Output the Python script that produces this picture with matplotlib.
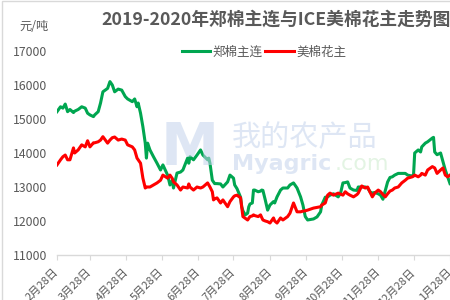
import matplotlib
matplotlib.use("Agg")
import matplotlib.pyplot as plt
from matplotlib.patches import Rectangle
import pandas as pd

plt.rcParams['font.family'] = ['Noto Sans CJK SC', 'DejaVu Sans']

title = "2019-2020年郑棉主连与ICE美棉花主走势图"
unit_label = "元/吨"
series_names = ["郑棉主连", "美棉花主"]

dates = [
    "2019-02-28", "2019-03-03", "2019-03-05", "2019-03-07", "2019-03-09", "2019-03-11",
    "2019-03-14", "2019-03-15", "2019-03-18", "2019-03-21", "2019-03-24", "2019-03-26",
    "2019-03-28", "2019-03-31", "2019-04-01", "2019-04-04", "2019-04-06", "2019-04-08",
    "2019-04-12", "2019-04-14", "2019-04-16", "2019-04-18", "2019-04-21", "2019-04-24",
    "2019-04-27", "2019-04-29", "2019-05-03", "2019-05-05", "2019-05-07", "2019-05-08",
    "2019-05-10", "2019-05-12", "2019-05-14", "2019-05-15", "2019-05-16", "2019-05-18",
    "2019-05-21", "2019-05-24", "2019-05-27", "2019-05-29", "2019-06-02", "2019-06-04",
    "2019-06-06", "2019-06-07", "2019-06-10", "2019-06-13", "2019-06-15", "2019-06-19",
    "2019-06-20", "2019-06-21", "2019-06-24", "2019-06-27", "2019-06-30", "2019-07-02",
    "2019-07-06", "2019-07-07", "2019-07-08", "2019-07-10", "2019-07-11", "2019-07-12",
    "2019-07-14", "2019-07-17", "2019-07-19", "2019-07-23", "2019-07-25", "2019-07-28",
    "2019-07-29", "2019-07-31", "2019-08-03", "2019-08-04", "2019-08-05", "2019-08-07",
    "2019-08-09", "2019-08-10", "2019-08-11", "2019-08-13", "2019-08-14", "2019-08-15",
    "2019-08-18", "2019-08-20", "2019-08-21", "2019-08-22", "2019-08-24", "2019-08-26",
    "2019-08-28", "2019-08-31", "2019-09-01", "2019-09-03", "2019-09-06", "2019-09-08",
    "2019-09-12", "2019-09-14", "2019-09-17", "2019-09-20", "2019-09-23", "2019-09-25",
    "2019-09-27", "2019-09-29", "2019-10-04", "2019-10-07", "2019-10-10", "2019-10-11",
    "2019-10-14", "2019-10-16", "2019-10-18", "2019-10-21", "2019-10-25", "2019-10-27",
    "2019-10-29", "2019-10-31", "2019-11-02", "2019-11-04", "2019-11-07", "2019-11-10",
    "2019-11-11", "2019-11-14", "2019-11-17", "2019-11-19", "2019-11-21", "2019-11-23",
    "2019-11-25", "2019-11-28", "2019-11-30", "2019-12-01", "2019-12-02", "2019-12-04",
    "2019-12-06", "2019-12-08", "2019-12-10", "2019-12-12", "2019-12-15", "2019-12-18",
    "2019-12-21", "2019-12-23", "2019-12-27", "2019-12-28", "2019-12-29", "2020-01-01",
    "2020-01-03", "2020-01-04", "2020-01-07", "2020-01-09", "2020-01-13", "2020-01-14",
    "2020-01-15", "2020-01-17", "2020-01-20", "2020-01-22", "2020-01-24", "2020-01-26",
    "2020-01-28",
]

zhengmian = [
    15215, 15360, 15320, 15440, 15215, 15280,
    15190, 15230, 15280, 15360, 15320, 15170,
    15120, 15070, 15120, 15215, 15470, 15800,
    15900, 16100, 16000, 15800, 15880, 15850,
    15660, 15590, 15510, 15590, 15360, 15470,
    15170, 14770, 14290, 13850, 14290, 14090,
    13890, 13700, 13500, 13650, 13350, 13060,
    13200, 12970, 13410, 13440, 13500, 13850,
    13700, 13890, 13800, 13940, 14090, 13940,
    13800, 13850, 13700, 13200, 13150, 13100,
    13100, 13090, 13000, 13150, 13350, 13260,
    13060, 12950, 12700, 12420, 12300, 12180,
    12230, 12420, 12500, 12530, 12910, 12910,
    12860, 12880, 12910, 12900, 12620, 12320,
    12470, 12570, 12530, 12710, 12910, 12970,
    12970, 13060, 13120, 12970, 12710, 12470,
    12130, 12030, 12060, 12120, 12270, 12470,
    12700, 12710, 12760, 12800, 12710, 12820,
    13120, 13130, 13150, 12970, 12910, 12900,
    13000, 13000, 13000, 12970, 12860, 12820,
    12840, 12800, 12760, 12700, 12640, 12900,
    13150, 13280, 13300, 13350, 13400, 13400,
    13400, 13350, 13320, 13350, 14000, 14090,
    14030, 14180, 14290, 14330, 14440, 14460,
    14030, 13950, 14000, 13750, 13500, 13300,
    13100,
]

meimian = [
    13650, 13800, 13890, 13940, 13800, 13800,
    14150, 14000, 14090, 14240, 14180, 14360,
    14180, 14300, 14300, 14330, 14380, 14480,
    14290, 14380, 14450, 14470, 14380, 14410,
    14380, 14240, 14180, 14090, 13850, 13800,
    13700, 13260, 12970, 13000, 13000, 13000,
    13060, 13120, 13200, 13350, 13260, 13350,
    13250, 13150, 13060, 12910, 13000, 12970,
    13090, 13000, 12910, 13000, 12970, 13000,
    13120, 13060, 13000, 12860, 12620, 12650,
    12680, 12530, 12620, 12420, 12570, 12710,
    12740, 12760, 12680, 12400, 12130, 12080,
    12030, 12080, 12130, 12150, 12180, 12160,
    12130, 12180, 12100, 12030, 12000, 11980,
    11940, 12090, 12000, 11940, 12090, 12030,
    12130, 12230, 12530, 12270, 12270, 12290,
    12300, 12320, 12380, 12400, 12420, 12470,
    12530, 12760, 12820, 12760, 12820, 12790,
    12760, 12860, 12800, 12760, 12710, 12780,
    12820, 13030, 12970, 13000, 12850, 12710,
    12820, 12910, 12860, 12820, 12780, 12710,
    12800, 12880, 12910, 12970, 13000, 13120,
    13200, 13260, 13300, 13320, 13350, 13300,
    13350, 13400, 13350, 13500, 13600, 13580,
    13560, 13400, 13500, 13560, 13350, 13300,
    13350,
]

tick_dates = [
    "2019-02-28", "2019-03-28", "2019-04-28", "2019-05-28", "2019-06-28", "2019-07-28",
    "2019-08-28", "2019-09-28", "2019-10-28", "2019-11-28", "2019-12-28", "2020-01-28",
]
tick_labels = [
    "2月28日", "3月28日", "4月28日", "5月28日", "6月28日", "7月28日",
    "8月28日", "9月28日", "10月28日", "11月28日", "12月28日", "1月28日",
]
y_ticks = [11000, 12000, 13000, 14000, 15000, 16000, 17000]

GREEN = "#00A650"
RED = "#FF0000"
TXT = "#595959"

x = pd.to_datetime(dates)
W, H = 450, 300
fig = plt.figure(figsize=(4.5, 3.0), dpi=100)

# chart frame
fig.patches.append(Rectangle((2 / W, -0.1), 1.2, 1.1 - 1 / H, transform=fig.transFigure,
                             fill=False, edgecolor="#D9D9D9", linewidth=1.0))

x0 = pd.Timestamp("2019-02-28")
x1 = pd.Timestamp("2020-02-10")
px_per_day = 393 / 334.0
width_px = (x1 - x0).days * px_per_day
ax = fig.add_axes([57 / W, 45 / H, width_px / W, 204 / H])

ax.plot(x, zhengmian, color=GREEN, lw=2.2, label=series_names[0], zorder=3,
        solid_joinstyle="round")
ax.plot(x, meimian, color=RED, lw=2.2, label=series_names[1], zorder=3,
        solid_joinstyle="round")

ax.set_xlim(x0, x1)
ax.set_ylim(11000, 17000)
ax.set_yticks(y_ticks)
ax.set_yticklabels([str(v) for v in y_ticks])
ax.set_xticks(pd.to_datetime(tick_dates))
ax.set_xticklabels(tick_labels, rotation=45, ha="right", va="center",
                   rotation_mode="anchor")

for s in ["top", "right", "left"]:
    ax.spines[s].set_visible(False)
ax.spines["bottom"].set_color("#D9D9D9")
ax.spines["bottom"].set_linewidth(1.0)
ax.tick_params(axis="y", length=0, pad=7, labelsize=8.8, labelcolor=TXT)
ax.tick_params(axis="x", length=3.6, width=0.8, color="#D9D9D9", pad=7.5,
               labelsize=8, labelcolor=TXT)
ax.set_facecolor("none")

# title, unit, legend
fig.text(276 / W, 1 - 20 / H, title, ha="center", va="center", fontsize=12.8,
         fontweight="bold", color=TXT)
fig.text(34 / W, 1 - 27 / H, unit_label, ha="center", va="center", fontsize=8.8,
         color=TXT)
leg = fig.legend(loc="center", bbox_to_anchor=(264 / W, 1 - 52 / H), ncol=2,
                 frameon=False, fontsize=9, handlelength=2.3, handletextpad=0.2,
                 columnspacing=0.2, borderpad=0)
for t in leg.get_texts():
    t.set_color(TXT)

# watermark
fig.text(190 / W, 1 - 148 / H, "M", ha="center", va="center", fontsize=42,
         fontweight="bold", color="#C3D3EC", alpha=0.55, zorder=5,
         family=["DejaVu Sans"])
fig.text(305 / W, 1 - 138 / H, "我的农产品", ha="center", va="center", fontsize=21,
         color="#C3D3EC", alpha=0.55, zorder=5)
fig.text(232 / W, 1 - 164 / H, "Myagric", ha="left", va="center", fontsize=16,
         fontweight="bold", color="#C3D3EC", alpha=0.55, zorder=5,
         family=["DejaVu Sans"])
fig.text(335 / W, 1 - 164 / H, ".com", ha="left", va="center", fontsize=16,
         color="#CDEBCD", alpha=0.55, zorder=5, family=["DejaVu Sans"])

fig.savefig("out.png", dpi=100)
